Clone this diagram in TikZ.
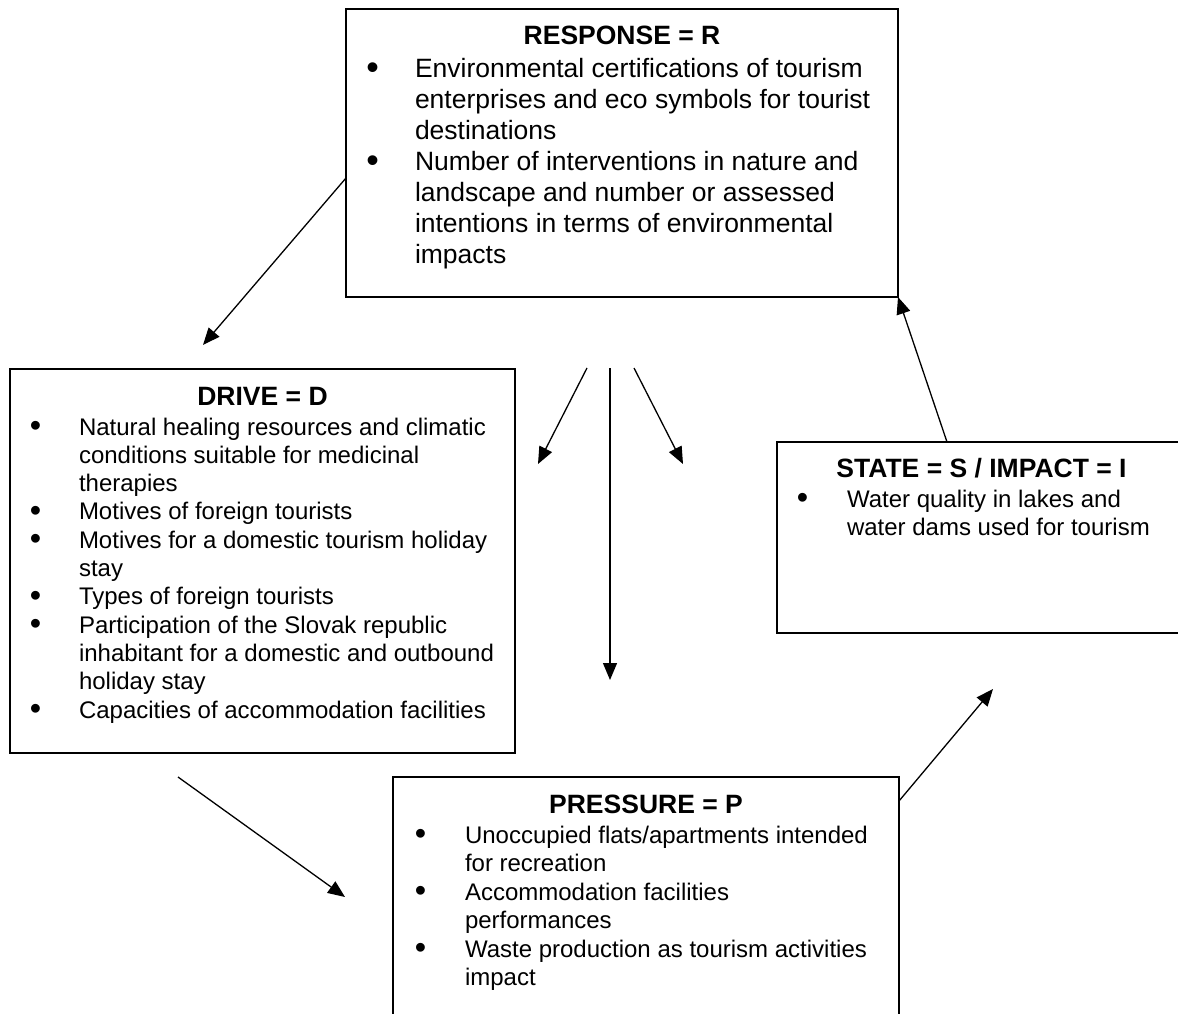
\documentclass[tikz,border=0pt]{standalone}
\usepackage{fontspec}
\setmainfont{Liberation Sans}
\usetikzlibrary{arrows.meta}
\newcommand\dsrb[1]{\makebox[#1][l]{\hspace{-1pt}\raisebox{-1.2pt}{\scalebox{1.35}{\textbullet}}}}
\newcommand\dsrc[1]{\hspace*{#1}}
\tikzset{
  boxstyle/.style={draw, line width=1.5pt, rectangle, inner sep=0pt, outer sep=0pt, anchor=north west},
  titlestyle/.style={anchor=base, inner sep=0pt, outer sep=0pt, font=\bfseries\fontsize{26.5}{31}\selectfont},
  bodystyle/.style={anchor=base west, inner sep=0pt, outer sep=0pt},
  arr/.style={line width=1.3pt, -{Triangle[length=17pt,width=14pt]}},
}
\begin{document}
\begin{tikzpicture}[x=1pt,y=-1pt]
\useasboundingbox (0,0) rectangle (1178,1014);
\clip (0,0) rectangle (1178,1014);
\fill[white] (0,0) rectangle (1178,1014);

% RESPONSE
\node[boxstyle, minimum width=552pt, minimum height=288pt] (resp) at (346,9) {};
\node[titlestyle] (resptitle) at (622,45) {RESPONSE = R};
\node[bodystyle, font=\fontsize{26.5}{31}\selectfont] (respbody) at (367.4,78) {\parbox[t]{620pt}{%
\dsrb{47.6pt}Environmental certifications of tourism\\
\dsrc{47.6pt}enterprises and eco symbols for tourist\\
\dsrc{47.6pt}destinations\\
\dsrb{47.6pt}Number of interventions in nature and\\
\dsrc{47.6pt}landscape and number or assessed\\
\dsrc{47.6pt}intentions in terms of environmental\\
\dsrc{47.6pt}impacts}};

% DRIVE
\node[boxstyle, minimum width=505pt, minimum height=384pt] (drive) at (10,369) {};
\node[titlestyle] (drivetitle) at (262.5,405) {DRIVE = D};
\node[bodystyle, font=\fontsize{24}{28.3}\selectfont] (drivebody) at (30.8,435) {\parbox[t]{620pt}{%
\dsrb{48.2pt}Natural healing resources and climatic\\
\dsrc{48.2pt}conditions suitable for medicinal\\
\dsrc{48.2pt}therapies\\
\dsrb{48.2pt}Motives of foreign tourists\\
\dsrb{48.2pt}Motives for a domestic tourism holiday\\
\dsrc{48.2pt}stay\\
\dsrb{48.2pt}Types of foreign tourists\\
\dsrb{48.2pt}Participation of the Slovak republic\\
\dsrc{48.2pt}inhabitant for a domestic and outbound\\
\dsrc{48.2pt}holiday stay\\
\dsrb{48.2pt}Capacities of accommodation facilities}};

% STATE / IMPACT
\node[boxstyle, minimum width=409pt, minimum height=191pt] (state) at (777,442) {};
\node[titlestyle] (statetitle) at (981.5,477) {STATE = S / IMPACT = I};
\node[bodystyle, font=\fontsize{24}{28.3}\selectfont] (statebody) at (797.8,507) {\parbox[t]{620pt}{%
\dsrb{49.2pt}Water quality in lakes and\\
\dsrc{49.2pt}water dams used for tourism}};

% PRESSURE
\node[boxstyle, minimum width=506pt, minimum height=260pt] (pres) at (393,777) {};
\node[titlestyle] (prestitle) at (646,813) {PRESSURE = P};
\node[bodystyle, font=\fontsize{24}{28.5}\selectfont] (presbody) at (415.8,843) {\parbox[t]{620pt}{%
\dsrb{49.2pt}Unoccupied flats/apartments intended\\
\dsrc{49.2pt}for recreation\\
\dsrb{49.2pt}Accommodation facilities\\
\dsrc{49.2pt}performances\\
\dsrb{49.2pt}Waste production as tourism activities\\
\dsrc{49.2pt}impact}};

% connectors
\coordinate (rdTip) at (203,345);
\draw[arr] ([yshift=-25pt]resp.west) -- (rdTip);

\coordinate (dpStart) at (178,777);
\coordinate (dpTip) at (345,897);
\draw[arr] (dpStart) -- (dpTip);

\coordinate (psTip) at (993,689);
\draw[arr] ([yshift=-24pt]pres.north east) -- (psTip);

\draw[arr] ([xshift=170pt]state.north west) -- (resp.south east);

\coordinate (m1s) at (587,368);
\coordinate (m1t) at (538,464);
\coordinate (m2s) at (610,368);
\coordinate (m2t) at (610,680);
\coordinate (m3s) at (634,368);
\coordinate (m3t) at (683,464);
\draw[arr] (m1s) -- (m1t);
\draw[arr] (m2s) -- (m2t);
\draw[arr] (m3s) -- (m3t);
\end{tikzpicture}
\end{document}
